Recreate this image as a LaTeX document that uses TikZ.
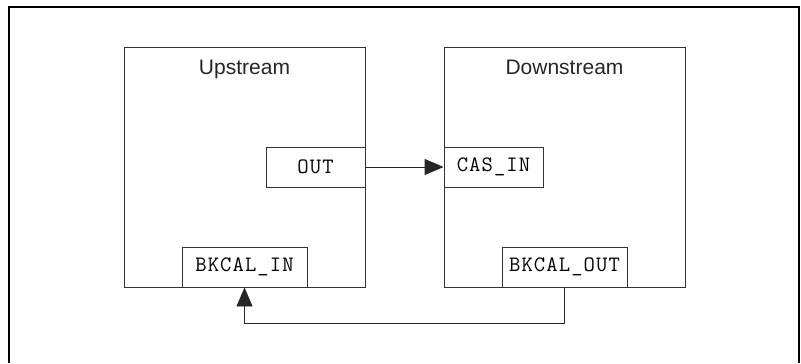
\documentclass[tikz,border=0pt]{standalone}
\usepackage{fontspec}
\setmainfont{Liberation Sans}
\newfontfamily\portfont{Latin Modern Mono}[LetterSpace=5]
\usepackage{xcolor}
\usepackage{tikz}
\usetikzlibrary{positioning}
\usetikzlibrary{arrows.meta}

\begin{document}
\begin{tikzpicture}[x=1bp,y=-1bp,
		block/.style={draw=black!80,line width=0.9bp,inner sep=0pt},
		port/.style={block,fill=white,minimum height=40bp,font=\fontsize{22bp}{26bp}\portfont},
		title/.style={inner sep=0pt,text=black!85,font=\fontsize{21bp}{25bp}\selectfont},
		link/.style={black!85,line width=0.9bp,-{Triangle[length=19bp,width=16bp]}}]
			\useasboundingbox (0,0) rectangle (801,363);
			\draw [line width=2bp] (8.5,363) -- (8.5,6.5) -- (799,6.5) -- (799,363);
			\node (up)		[block,minimum width=241bp,minimum height=240bp] at (244.5,167) {};
			\node (down)	[block,minimum width=241bp,minimum height=240bp] at (564.5,167) {};
			\node			[title,below=13bp of up.north]		{Upstream};
			\node			[title,below=13bp of down.north]	{Downstream};
			\node (out)		[port,minimum width=99bp,anchor=east]	at (up.east)	{OUT};
			\node (casin)	[port,minimum width=99bp,anchor=west]	at (down.west)	{CAS\_IN};
			\node (bkin)	[port,minimum width=125bp,anchor=south]	at (up.south)	{BKCAL\_IN};
			\node (bkout)	[port,minimum width=125bp,anchor=south]	at (down.south)	{BKCAL\_OUT};
			\draw [link] (out) -- (casin);
			\draw [link] (bkout.south) -- ++(0,36) -| (bkin.south);
		\end{tikzpicture}
\end{document}
